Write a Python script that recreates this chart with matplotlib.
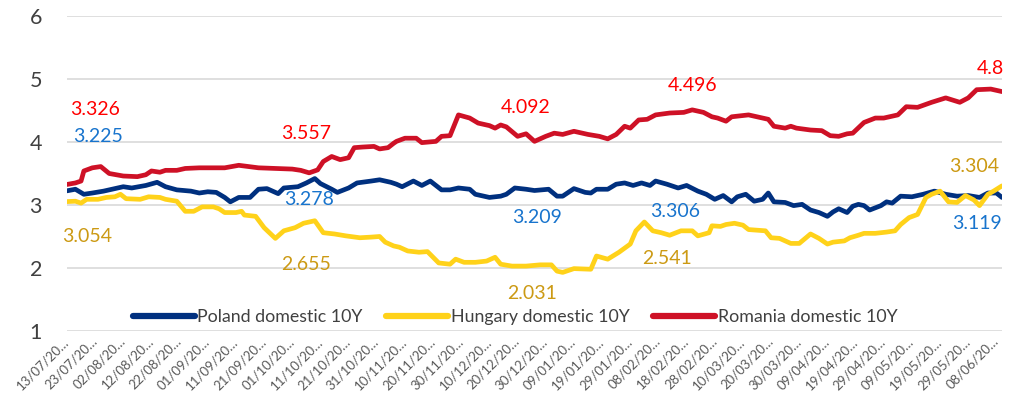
import datetime as dt
import matplotlib
matplotlib.use("Agg")
import matplotlib.pyplot as plt
import matplotlib.dates as mdates

plt.rcParams['font.family'] = ['Lato', 'DejaVu Sans']

START = dt.date(2020, 7, 13)

# ---- data (day offsets from 13/07/2020, yields in %) ----
pl_days = [0, 3, 6, 9, 13, 16, 20, 23, 28, 32, 35, 39, 44, 47, 50, 53, 56, 58, 61, 65, 68, 71, 75, 77,
           82, 85, 88, 90, 94, 96, 100, 103, 108, 111, 115, 117, 119, 123, 126, 129, 133, 136, 139, 143,
           145, 150, 154, 156, 159, 163, 166, 171, 174, 176, 180, 184, 186, 188, 192, 195, 198, 201, 204,
           207, 209, 213, 217, 220, 224, 227, 230, 233, 236, 238, 241, 244, 247, 249, 251, 255, 258, 261,
           264, 267, 270, 272, 274, 277, 279, 281, 283, 285, 289, 291, 293, 296, 300, 304, 308, 312, 316,
           320, 324, 327, 330, 332]
pl_vals = [3.225, 3.25, 3.17, 3.19, 3.22, 3.25, 3.29, 3.27, 3.31, 3.36, 3.29, 3.24, 3.22, 3.19, 3.21,
           3.20, 3.12, 3.05, 3.12, 3.12, 3.25, 3.26, 3.18, 3.27, 3.29, 3.35, 3.42, 3.34, 3.25, 3.20,
           3.27, 3.35, 3.38, 3.40, 3.36, 3.33, 3.29, 3.38, 3.31, 3.38, 3.24, 3.24, 3.27, 3.25, 3.17,
           3.12, 3.14, 3.17, 3.27, 3.25, 3.23, 3.25, 3.14, 3.14, 3.26, 3.20, 3.19, 3.25, 3.25, 3.33,
           3.35, 3.31, 3.35, 3.31, 3.38, 3.33, 3.27, 3.31, 3.22, 3.17, 3.09, 3.15, 3.05, 3.13, 3.17,
           3.06, 3.09, 3.19, 3.05, 3.04, 2.99, 3.01, 2.92, 2.88, 2.82, 2.89, 2.94, 2.88, 2.98, 3.01,
           2.99, 2.92, 2.99, 3.05, 3.03, 3.14, 3.13, 3.17, 3.22, 3.17, 3.14, 3.15, 3.12, 3.19, 3.19,
           3.119]

hu_days = [0, 3, 5, 7, 11, 14, 17, 19, 21, 26, 29, 33, 35, 39, 42, 45, 48, 52, 54, 56, 60, 62, 63, 67,
           70, 74, 77, 81, 84, 88, 91, 95, 99, 104, 108, 111, 113, 116, 118, 121, 125, 128, 132, 136,
           138, 141, 145, 149, 152, 154, 158, 163, 168, 172, 174, 176, 180, 186, 188, 192, 196, 200,
           202, 205, 208, 211, 214, 218, 222, 224, 228, 229, 232, 234, 237, 240, 242, 248, 250, 253,
           257, 260, 264, 267, 270, 272, 276, 278, 281, 283, 287, 291, 294, 296, 299, 302, 305, 307,
           310, 313, 316, 319, 322, 324, 327, 329, 332]
hu_vals = [3.054, 3.06, 3.03, 3.09, 3.09, 3.12, 3.13, 3.17, 3.10, 3.09, 3.13, 3.12, 3.09, 3.06, 2.90,
           2.90, 2.97, 2.97, 2.94, 2.88, 2.88, 2.90, 2.84, 2.82, 2.64, 2.47, 2.59, 2.64, 2.71, 2.75,
           2.56, 2.54, 2.51, 2.48, 2.49, 2.50, 2.41, 2.35, 2.33, 2.27, 2.25, 2.26, 2.08, 2.06, 2.14,
           2.09, 2.09, 2.11, 2.17, 2.06, 2.03, 2.03, 2.05, 2.05, 1.95, 1.93, 1.99, 1.98, 2.19, 2.14,
           2.25, 2.38, 2.59, 2.73, 2.59, 2.56, 2.52, 2.59, 2.59, 2.51, 2.56, 2.67, 2.66, 2.69, 2.71,
           2.68, 2.61, 2.59, 2.48, 2.47, 2.39, 2.39, 2.54, 2.47, 2.38, 2.41, 2.43, 2.48, 2.52, 2.55,
           2.55, 2.57, 2.59, 2.69, 2.80, 2.85, 3.12, 3.17, 3.22, 3.05, 3.04, 3.15, 3.08, 2.99, 3.17,
           3.22, 3.304]

ro_days = [0, 3, 5, 6, 9, 12, 15, 20, 25, 28, 30, 33, 35, 39, 42, 47, 52, 56, 61, 68, 74, 80, 83, 86,
           89, 91, 94, 97, 100, 102, 105, 109, 111, 114, 116, 117, 120, 124, 126, 131, 133, 136, 139,
           143, 146, 150, 152, 154, 156, 160, 163, 166, 170, 173, 176, 180, 185, 189, 192, 195, 198,
           200, 203, 206, 209, 214, 219, 222, 226, 229, 231, 234, 236, 242, 245, 249, 251, 255, 257,
           259, 264, 268, 271, 274, 277, 279, 283, 287, 290, 295, 298, 302, 307, 312, 317, 320, 323,
           328, 332]
ro_vals = [3.326, 3.35, 3.38, 3.54, 3.59, 3.61, 3.50, 3.46, 3.45, 3.48, 3.54, 3.52, 3.55, 3.55, 3.58,
           3.59, 3.59, 3.59, 3.63, 3.59, 3.58, 3.57, 3.55, 3.51, 3.557, 3.69, 3.77, 3.72, 3.75, 3.91,
           3.92, 3.93, 3.89, 3.91, 3.98, 4.01, 4.06, 4.06, 3.99, 4.01, 4.09, 4.10, 4.43, 4.38, 4.30,
           4.26, 4.22, 4.27, 4.24, 4.09, 4.13, 4.01, 4.09, 4.14, 4.12, 4.17, 4.12, 4.09, 4.05, 4.12,
           4.25, 4.22, 4.35, 4.36, 4.43, 4.46, 4.47, 4.51, 4.47, 4.40, 4.38, 4.33, 4.40, 4.43, 4.40,
           4.36, 4.25, 4.22, 4.25, 4.22, 4.19, 4.18, 4.10, 4.09, 4.13, 4.14, 4.31, 4.38, 4.38, 4.43,
           4.56, 4.55, 4.63, 4.70, 4.63, 4.70, 4.83, 4.84, 4.80]

series_names = ["Poland domestic 10Y", "Hungary domestic 10Y", "Romania domestic 10Y"]

# data labels: (text, day, y position)
pl_labels = [("3.225", 11, 4.08), ("3.278", 86, 3.08), ("3.209", 167, 2.80), ("3.306", 216, 2.90),
             ("3.119", 323.5, 2.71)]
hu_labels = [("3.054", 7, 2.50), ("2.655", 85, 2.06), ("2.031", 165, 1.59), ("2.541", 213, 2.15),
             ("3.304", 322.5, 3.61)]
ro_labels = [("3.326", 10.5, 4.51), ("3.557", 85, 4.13), ("4.092", 163, 4.54), ("4.496", 222, 4.89),
             ("4.8", 328, 5.17)]

tick_step_days = 10
n_ticks = 34
y_ticks = [1, 2, 3, 4, 5, 6]


def to_dates(days):
    return [START + dt.timedelta(days=d) for d in days]


fig = plt.figure(figsize=(10.27, 4.03), dpi=100)
ax = fig.add_axes([0.0652, 0.1787, 0.9105, 0.7816])

line_colors = ["#00307F", "#FFD21A", "#CE1126"]
label_colors = ["#1874CD", "#CC9A14", "#FF0000"]

for days, vals, col, name in zip([pl_days, hu_days, ro_days], [pl_vals, hu_vals, ro_vals],
                                 line_colors, series_names):
    ax.plot(to_dates(days), vals, color=col, lw=3.4, solid_joinstyle='round',
            solid_capstyle='round', label=name, zorder=3)

for labels, col in zip([pl_labels, hu_labels, ro_labels], label_colors):
    for txt, d, y in labels:
        ax.text(START + dt.timedelta(days=d), y, txt, color=col, fontsize=14,
                ha='center', va='center', zorder=4)

ax.set_ylim(1, 6)
ax.set_yticks(y_ticks)
ax.set_xlim(START, START + dt.timedelta(days=332))
ticks = [START + dt.timedelta(days=tick_step_days * k) for k in range(n_ticks)]
ax.set_xticks(ticks)
ax.set_xticklabels([t.strftime("%d/%m/20") + "\u2026" for t in ticks], rotation=45, ha='right',
                   va='center', rotation_mode='anchor', fontsize=9.5, color='#595959')
ax.tick_params(axis='x', length=0, pad=6)
ax.tick_params(axis='y', length=0, pad=18, labelsize=15.5, labelcolor='#404040')
ax.grid(axis='y', color='#D9D9D9', lw=1.2)
ax.set_axisbelow(True)
for s in ax.spines.values():
    s.set_visible(False)

leg = ax.legend(loc='center', bbox_to_anchor=(0.479, 0.044), ncol=3, frameon=False, fontsize=12.8,
                handlelength=3.5, handletextpad=0.15, columnspacing=1.3, labelcolor='#404040')
for h in leg.get_lines():
    h.set_linewidth(4.5)

fig.savefig("out.png", dpi=100)
